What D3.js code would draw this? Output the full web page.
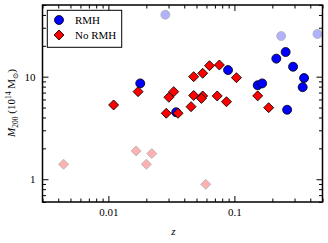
<!DOCTYPE html>
<html>
<head>
<meta charset="utf-8">
<script src="https://cdn.jsdelivr.net/npm/d3@7"></script>
<style>
  body { margin: 0; background: #fff; }
  text { font-family: "Liberation Serif", "DejaVu Serif", serif; }
</style>
</head>
<body>
<svg width="328" height="243"></svg>
<script>
// RMH clusters
const rmhZ = [0.0179, 0.0345, 0.089, 0.153, 0.166, 0.215, 0.255, 0.292, 0.357, 0.348, 0.262];
const rmhM = [8.6, 4.5, 11.6, 8.25, 8.6, 15.0, 17.4, 12.5, 9.7, 7.9, 4.76];

// No RMH clusters
const noRmhZ = [0.0110, 0.0172, 0.0302, 0.0330, 0.0288, 0.0357, 0.0475, 0.0560, 0.0475, 0.0560, 0.0547,
                0.0453, 0.0730, 0.0865, 0.0634, 0.0760, 0.1038, 0.153, 0.187];
const noRmhM = [5.3, 7.15, 6.3, 7.15, 4.4, 4.4, 10.0, 10.8, 6.56, 6.49, 6.14,
                5.1, 6.49, 5.7, 12.8, 13.0, 9.78, 6.5, 4.99];

// faded points
const rmhFadedZ = [0.0283, 0.235, 0.456];
const rmhFadedM = [40.2, 24.9, 26.1];
const noRmhFadedZ = [0.00441, 0.0166, 0.0221, 0.0200, 0.0592];
const noRmhFadedM = [1.40, 1.89, 1.78, 1.40, 0.893];

const xMajor = [0.01, 0.1];
const yMajor = [1, 10];
const legendLabels = ["RMH", "No RMH"];

const margin = {top: 5, right: 5.5, bottom: 41, left: 42.5},
      width = 328 - margin.left - margin.right,
      height = 243 - margin.top - margin.bottom;

const svg = d3.select("svg");
const g = svg.append("g").attr("transform", `translate(${margin.left},${margin.top})`);

const x = d3.scaleLog().domain([0.003, 0.5]).range([0, width]);
const y = d3.scaleLog().domain([0.6, 50]).range([height, 0]);

const xMinor = x.ticks().filter(t => !xMajor.some(m => Math.abs(m - t) < 1e-9));
const yMinor = y.ticks().filter(t => !yMajor.some(m => Math.abs(m - t) < 1e-9));

function styleAxis(sel) {
    sel.select(".domain").remove();
    sel.selectAll("line").attr("stroke", "#000").attr("stroke-width", 1);
    sel.selectAll("text").attr("font-family", "Liberation Serif").attr("font-size", 11).attr("fill", "#000");
}

// bottom
g.append("g").attr("transform", `translate(0,${height})`)
    .call(d3.axisBottom(x).tickValues(xMajor).tickFormat(d3.format("")).tickSize(-6).tickPadding(6))
    .call(styleAxis);
g.append("g").attr("transform", `translate(0,${height})`)
    .call(d3.axisBottom(x).tickValues(xMinor).tickFormat("").tickSize(-3.5))
    .call(styleAxis);
// top
g.append("g")
    .call(d3.axisTop(x).tickValues(xMajor).tickFormat("").tickSize(-6))
    .call(styleAxis);
g.append("g")
    .call(d3.axisTop(x).tickValues(xMinor).tickFormat("").tickSize(-3.5))
    .call(styleAxis);
// left
g.append("g")
    .call(d3.axisLeft(y).tickValues(yMajor).tickFormat(d3.format("")).tickSize(-6).tickPadding(7))
    .call(styleAxis);
g.append("g")
    .call(d3.axisLeft(y).tickValues(yMinor).tickFormat("").tickSize(-3.5))
    .call(styleAxis);
// right
g.append("g").attr("transform", `translate(${width},0)`)
    .call(d3.axisRight(y).tickValues(yMajor).tickFormat("").tickSize(-6))
    .call(styleAxis);
g.append("g").attr("transform", `translate(${width},0)`)
    .call(d3.axisRight(y).tickValues(yMinor).tickFormat("").tickSize(-3.5))
    .call(styleAxis);

const diamond = d3.symbol().type(d3.symbolSquare).size(50);

// faded points
g.selectAll(".rf").data(d3.zip(rmhFadedZ, rmhFadedM)).enter().append("circle")
    .attr("cx", d => x(d[0])).attr("cy", d => y(d[1])).attr("r", 4.5)
    .attr("fill", "#0000ff").attr("stroke", "#000").attr("stroke-width", 0.8)
    .attr("opacity", 0.3);
g.selectAll(".nf").data(d3.zip(noRmhFadedZ, noRmhFadedM)).enter().append("path")
    .attr("d", diamond)
    .attr("transform", d => `translate(${x(d[0])},${y(d[1])}) rotate(45)`)
    .attr("fill", "#ff0000").attr("stroke", "#000").attr("stroke-width", 0.8)
    .attr("opacity", 0.3);

// RMH
g.selectAll(".r").data(d3.zip(rmhZ, rmhM)).enter().append("circle")
    .attr("cx", d => x(d[0])).attr("cy", d => y(d[1])).attr("r", 4.5)
    .attr("fill", "#0000ff").attr("stroke", "#000").attr("stroke-width", 0.8);

// No RMH
g.selectAll(".n").data(d3.zip(noRmhZ, noRmhM)).enter().append("path")
    .attr("d", diamond)
    .attr("transform", d => `translate(${x(d[0])},${y(d[1])}) rotate(45)`)
    .attr("fill", "#ff0000").attr("stroke", "#000").attr("stroke-width", 0.8);

// frame
g.append("rect").attr("width", width).attr("height", height)
    .attr("fill", "none").attr("stroke", "#000").attr("stroke-width", 1.5);

// legend
const leg = g.append("g").attr("transform", "translate(4.8,5.3)");
leg.append("rect").attr("width", 74.4).attr("height", 37)
    .attr("fill", "#fff").attr("stroke", "#000").attr("stroke-width", 1);
leg.append("circle").attr("cx", 11.7).attr("cy", 9.7).attr("r", 4.5)
    .attr("fill", "#0000ff").attr("stroke", "#000").attr("stroke-width", 0.8);
leg.append("path").attr("d", diamond)
    .attr("transform", "translate(11.7,24.7) rotate(45)")
    .attr("fill", "#ff0000").attr("stroke", "#000").attr("stroke-width", 0.8);
leg.selectAll(".lt").data(legendLabels).enter().append("text")
    .attr("x", 27.7).attr("y", (d, i) => 9.7 + i * 15).attr("dy", "0.35em")
    .attr("font-size", 11).text(d => d);

// axis labels
svg.append("text").attr("x", margin.left + x(0.0328)).attr("y", 235)
    .attr("text-anchor", "middle").attr("font-size", 11).attr("font-style", "italic").text("z");

const yl = svg.append("text")
    .attr("transform", "translate(15,103) rotate(-90)")
    .attr("text-anchor", "middle").attr("font-size", 11);
yl.append("tspan").attr("font-style", "italic").text("M");
yl.append("tspan").attr("font-size", 7.5).attr("dy", 2.5).text("200");
yl.append("tspan").attr("dy", -2.5).text(" (10");
yl.append("tspan").attr("font-size", 7.5).attr("dy", -4).text("14");
yl.append("tspan").attr("dy", 4).text(" M");
yl.append("tspan").attr("font-size", 7.5).attr("dy", 2.5).text("⊙");
yl.append("tspan").attr("dy", -2.5).text(")");
</script>
</body>
</html>
